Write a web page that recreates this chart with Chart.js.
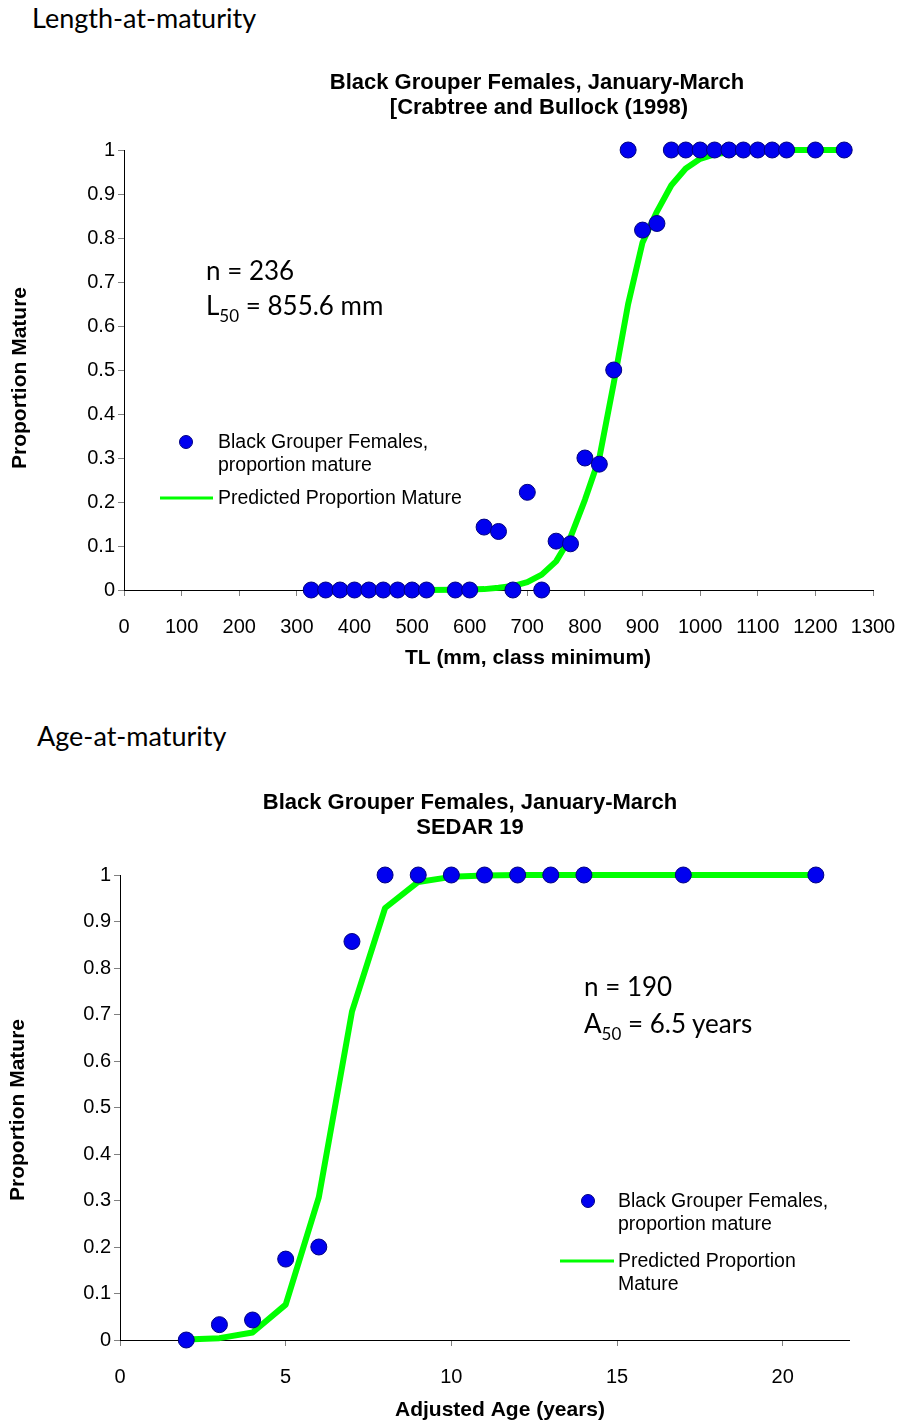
<!DOCTYPE html>
<html>
<head>
<meta charset="utf-8">
<title>Black Grouper maturity</title>
<script src="https://cdn.jsdelivr.net/npm/chart.js@4.4.1/dist/chart.umd.min.js"></script>
<style>
  html, body { margin: 0; padding: 0; background: #fff; }
  body { width: 898px; height: 1425px; position: relative; overflow: hidden; }
  .heading, .note { position: absolute; font-family: Lato, "Open Sans", sans-serif; color: #000; line-height: 1; white-space: nowrap; }
  .heading { font-size: 27px; }
  .note { font-size: 26px; }
  .note sub { font-size: 17px; vertical-align: -7px; line-height: 0; }
  .frame { position: absolute; left: 0; width: 898px; }
</style>
</head>
<body>
<div class="heading" style="left:32px; top:4px;">Length-at-maturity</div>
<div class="frame" style="top:60px; height:620px;"><canvas id="lengthChart"></canvas></div>
<div class="note" style="left:206px; top:257px;">n = 236</div>
<div class="note" style="left:206px; top:292px;">L<sub>50</sub> = 855.6 mm</div>

<div class="heading" style="left:37px; top:722px;">Age-at-maturity</div>
<div class="frame" style="top:760px; height:665px;"><canvas id="ageChart"></canvas></div>
<div class="note" style="left:584px; top:973px;">n = 190</div>
<div class="note" style="left:584px; top:1010px;">A<sub>50</sub> = 6.5 years</div>

<script>
// Length classes (TL, mm, class minimum) and proportion mature
const lengthClasses = [325, 350, 375, 400, 425, 450, 475, 500, 525, 575, 600,
  625, 650, 675, 700, 725, 750, 775, 800, 825, 850, 875, 900, 925,
  950, 975, 1000, 1025, 1050, 1075, 1100, 1125, 1150, 1200, 1250];
const lengthObserved = [0, 0, 0, 0, 0, 0, 0, 0, 0, 0, 0,
  0.143, 0.133, 0, 0.222, 0, 0.111, 0.105, 0.3, 0.286, 0.5, 1, 0.818, 0.833,
  1, 1, 1, 1, 1, 1, 1, 1, 1, 1, 1];
const lengthPredicted = [0, 0, 0, 0, 0, 0, 0, 0, 0.0001, 0.0005, 0.001,
  0.002, 0.005, 0.009, 0.018, 0.035, 0.065, 0.12, 0.205, 0.3, 0.47, 0.65, 0.79, 0.86,
  0.92, 0.958, 0.98, 0.99, 0.995, 0.997, 0.999, 0.999, 1, 1, 1];
const lengthTicks = [0, 100, 200, 300, 400, 500, 600, 700, 800, 900, 1000, 1100, 1200, 1300];

// Adjusted age (years) and proportion mature
const ages = [2, 3, 4, 5, 6, 7, 8, 9, 10, 11, 12, 13, 14, 17, 21];
const ageObserved = [0, 0.033, 0.043, 0.174, 0.2, 0.857, 1, 1, 1, 1, 1, 1, 1, 1, 1];
const agePredicted = [0.001, 0.004, 0.016, 0.076, 0.307, 0.706, 0.929, 0.985, 0.996, 0.999, 1, 1, 1, 1, 1];
const ageTicks = [0, 5, 10, 15, 20];

const proportionTicks = [0, 0.1, 0.2, 0.3, 0.4, 0.5, 0.6, 0.7, 0.8, 0.9, 1];

const seriesLabels = ['Black Grouper Females, proportion mature', 'Predicted Proportion Mature'];

Chart.defaults.font.family = '"Liberation Sans", Arial, sans-serif';
Chart.defaults.color = '#000';

const pairs = (xs, ys) => xs.map((x, i) => ({ x, y: ys[i] }));

// Free text (titles, axis titles) and an in-plot legend drawn from the dataset styles
const textLayer = {
  id: 'textLayer',
  afterDraw(chart, args, opts) {
    const ctx = chart.ctx;
    ctx.save();
    ctx.fillStyle = '#000';
    ctx.textBaseline = 'middle';
    (opts.texts || []).forEach(t => {
      ctx.save();
      ctx.font = t.font;
      ctx.textAlign = t.align || 'center';
      ctx.translate(t.x, t.y);
      if (t.rotate) ctx.rotate(t.rotate);
      ctx.fillText(t.text, 0, 0);
      ctx.restore();
    });
    const lg = opts.legend;
    if (lg) {
      const pts = chart.data.datasets[0];
      const line = chart.data.datasets[1];
      // point entry
      ctx.beginPath();
      ctx.arc(lg.dot.x, lg.dot.y, lg.dot.r, 0, Math.PI * 2);
      ctx.fillStyle = pts.pointBackgroundColor;
      ctx.fill();
      ctx.lineWidth = 1;
      ctx.strokeStyle = pts.pointBorderColor;
      ctx.stroke();
      // line entry
      ctx.beginPath();
      ctx.moveTo(lg.line.x1, lg.line.y);
      ctx.lineTo(lg.line.x2, lg.line.y);
      ctx.strokeStyle = line.borderColor;
      ctx.lineWidth = lg.line.w;
      ctx.stroke();
      ctx.fillStyle = '#000';
      ctx.font = lg.font;
      ctx.textAlign = 'left';
      lg.rows.forEach(r => ctx.fillText(r.text, r.x, r.y));
    }
    ctx.restore();
  }
};

function axisStyle(extra) {
  return Object.assign({
    type: 'linear',
    grid: { display: true, drawOnChartArea: false, drawTicks: true, tickLength: 6, tickColor: '#808080', lineWidth: 1 },
    border: { display: true, color: '#000', width: 1 },
  }, extra);
}

function makeChart(id, cfg) {
  return new Chart(document.getElementById(id), {
    type: 'scatter',
    data: {
      datasets: [
        {
          label: seriesLabels[0],
          data: pairs(cfg.xs, cfg.observed),
          pointRadius: 8,
          pointBackgroundColor: '#0000F0',
          pointBorderColor: '#000080',
          pointBorderWidth: 1,
          showLine: false,
          clip: false,
          order: 0
        },
        {
          label: seriesLabels[1],
          data: pairs(cfg.xs, cfg.predicted),
          showLine: true,
          borderColor: '#00FF00',
          borderWidth: 6,
          pointRadius: 0,
          tension: 0,
          borderJoinStyle: 'round',
          clip: false,
          order: 1
        }
      ]
    },
    options: {
      responsive: true,
      maintainAspectRatio: false,
      animation: false,
      events: [],
      layout: { padding: cfg.padding },
      plugins: {
        legend: { display: false },
        title: { display: false },
        tooltip: { enabled: false },
        textLayer: { texts: cfg.texts, legend: cfg.legend }
      },
      scales: {
        x: axisStyle({
          min: cfg.xMin, max: cfg.xMax,
          afterBuildTicks: s => { s.ticks = cfg.xTicks.map(v => ({ value: v })); },
          afterFit: s => { s.height = cfg.xHeight; s.paddingLeft = 0; s.paddingRight = 0; },
          ticks: { font: { size: 20 }, padding: 19, maxRotation: 0, autoSkip: false, callback: v => String(v) }
        }),
        y: axisStyle({
          min: 0, max: 1,
          afterBuildTicks: s => { s.ticks = proportionTicks.map(v => ({ value: v })); },
          afterFit: s => { s.width = cfg.yWidth; s.paddingTop = 0; s.paddingBottom = 0; },
          ticks: { font: { size: 20 }, padding: 3, callback: v => String(Math.round(v * 10) / 10) }
        })
      }
    },
    plugins: [textLayer]
  });
}

const titleFont = 'bold 22px "Liberation Sans", Arial, sans-serif';
const axisFont = 'bold 21px "Liberation Sans", Arial, sans-serif';
const legendFont = '19.5px "Liberation Sans", Arial, sans-serif';

makeChart('lengthChart', {
  xs: lengthClasses, observed: lengthObserved, predicted: lengthPredicted,
  xMin: 0, xMax: 1300, xTicks: lengthTicks,
  padding: { top: 90, right: 25, left: 0, bottom: 0 },
  xHeight: 90, yWidth: 124,
  texts: [
    { text: 'Black Grouper Females, January-March', x: 537, y: 23, font: titleFont },
    { text: '[Crabtree and Bullock (1998)', x: 539, y: 48, font: titleFont },
    { text: 'TL (mm, class minimum)', x: 528, y: 598, font: axisFont },
    { text: 'Proportion Mature', x: 20, y: 318, font: axisFont, rotate: -Math.PI / 2 }
  ],
  legend: {
    font: legendFont,
    dot: { x: 186, y: 382, r: 6.5 },
    line: { x1: 160, x2: 213, y: 438, w: 3 },
    rows: [
      { text: 'Black Grouper Females,', x: 218, y: 383 },
      { text: 'proportion mature', x: 218, y: 406 },
      { text: 'Predicted Proportion Mature', x: 218, y: 439 }
    ]
  }
});

makeChart('ageChart', {
  xs: ages, observed: ageObserved, predicted: agePredicted,
  xMin: 0, xMax: 22, xTicks: ageTicks,
  padding: { top: 115, right: 49, left: 0, bottom: 0 },
  xHeight: 85, yWidth: 120,
  texts: [
    { text: 'Black Grouper Females, January-March', x: 470, y: 43, font: titleFont },
    { text: 'SEDAR 19', x: 470, y: 68, font: titleFont },
    { text: 'Adjusted Age (years)', x: 500, y: 650, font: axisFont },
    { text: 'Proportion Mature', x: 18, y: 350, font: axisFont, rotate: -Math.PI / 2 }
  ],
  legend: {
    font: legendFont,
    dot: { x: 588, y: 441, r: 6.5 },
    line: { x1: 560, x2: 614, y: 501, w: 3 },
    rows: [
      { text: 'Black Grouper Females,', x: 618, y: 442 },
      { text: 'proportion mature', x: 618, y: 465 },
      { text: 'Predicted Proportion', x: 618, y: 502 },
      { text: 'Mature', x: 618, y: 525 }
    ]
  }
});
</script>
</body>
</html>
